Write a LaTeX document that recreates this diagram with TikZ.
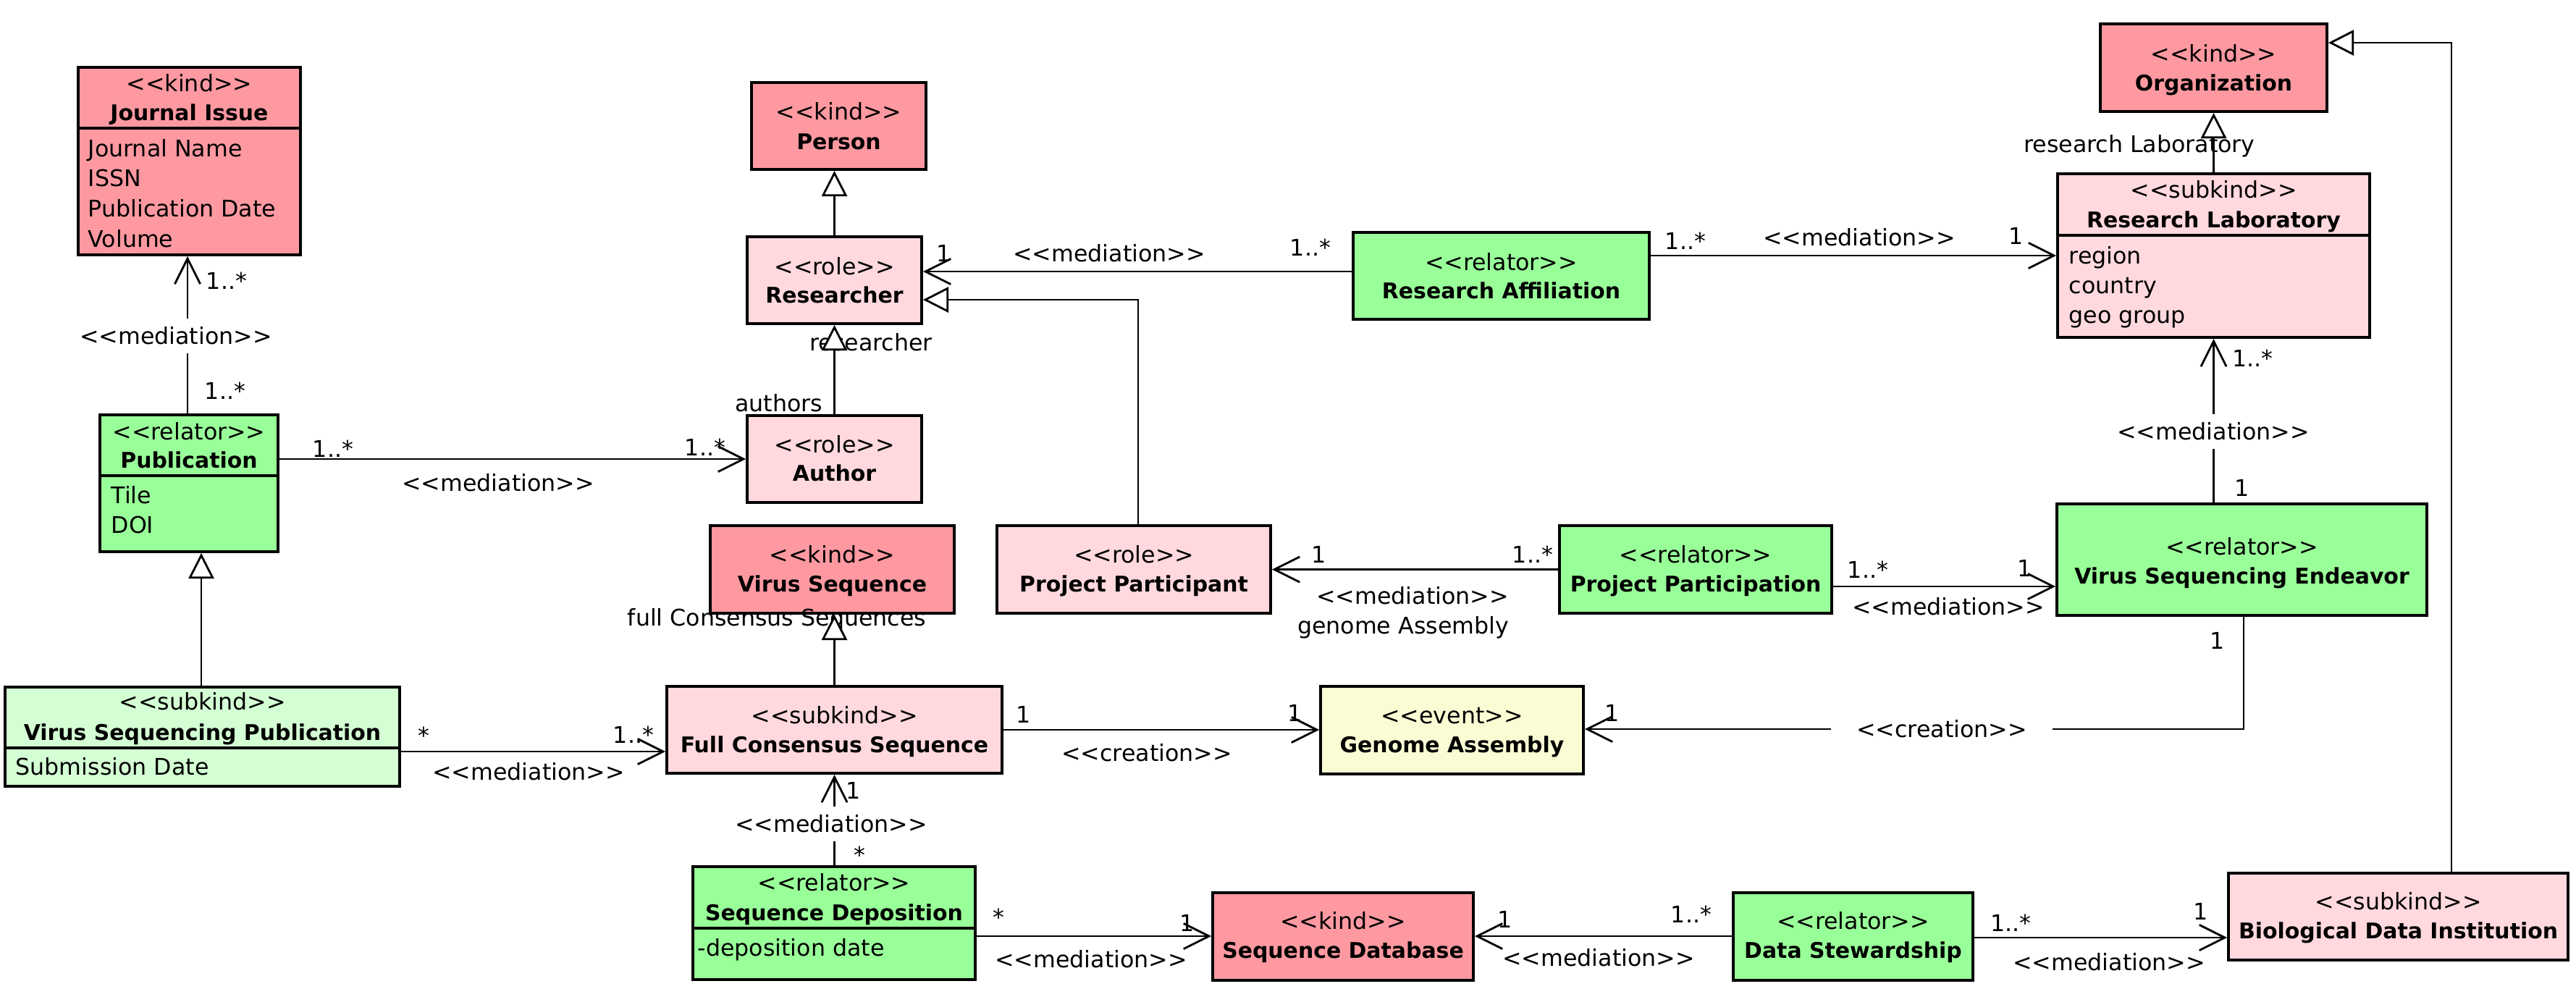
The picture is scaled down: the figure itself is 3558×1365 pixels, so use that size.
\documentclass[tikz,border=0pt]{standalone}
\usepackage{fontspec}
\setmainfont{DejaVu Sans}
\usetikzlibrary{arrows.meta}
\definecolor{kindc}{RGB}{255,153,161}
\definecolor{rolec}{RGB}{255,217,222}
\definecolor{relc}{RGB}{153,255,153}
\definecolor{evc}{RGB}{250,253,212}
\definecolor{lgc}{RGB}{212,255,212}
\newcommand\st[1]{<\kern0pt<#1>\kern0pt>}
\newcommand\umlbox[6]{\node[umlrect, fill=#6, minimum width={(#4-#2)*0.01cm}, minimum height={(#5-#3)*0.01cm}] (#1) at ({(#2+#4)/2},{(#3+#5)/2}) {};}
\begin{document}
\begin{tikzpicture}[x=0.01cm,y=-0.01cm,
  umlrect/.style={draw, line width=1.1pt, inner sep=0pt},
  sepline/.style={line width=1.1pt},
  lbl/.style={font=\fontsize{9}{11}\selectfont, inner sep=0pt, text height=6.6pt, text depth=0pt},
  cname/.style={font=\fontsize{8.5}{10}\bfseries\selectfont, inner sep=0pt, text height=6.2pt, text depth=0pt},
  attr/.style={lbl, anchor=west},
  gaplbl/.style={lbl, fill=white, inner xsep=3pt, inner ysep=3.5pt},
  med/.style={line width=0.8pt, -{Straight Barb[length=10pt, width=10pt]}},
  gen/.style={line width=0.8pt, -{Triangle[length=10pt, width=10pt, fill=white]}}
]
\useasboundingbox (0,0) rectangle (3558,1365);

% ---------- boxes ----------
\umlbox{ji}{108}{93}{415}{352}{kindc}
\umlbox{person}{1038}{114}{1279}{234}{kindc}
\umlbox{researcher}{1032}{327}{1273}{447}{rolec}
\umlbox{author}{1032}{574}{1273}{694}{rolec}
\umlbox{pub}{138}{573}{384}{762}{relc}
\umlbox{vsp}{7}{949}{552}{1086}{lgc}
\umlbox{vs}{981}{726}{1318}{847}{kindc}
\umlbox{fcs}{921}{948}{1384}{1068}{rolec}
\umlbox{seqdep}{957}{1197}{1347}{1353}{relc}
\umlbox{pp}{1377}{726}{1755}{847}{rolec}
\umlbox{ra}{1869}{321}{2278}{441}{relc}
\umlbox{ppn}{2154}{726}{2530}{847}{relc}
\umlbox{ga}{1824}{948}{2187}{1069}{evc}
\umlbox{sd}{1675}{1233}{2035}{1354}{kindc}
\umlbox{ds}{2394}{1233}{2725}{1354}{relc}
\umlbox{org}{2901}{33}{3214}{154}{kindc}
\umlbox{rl}{2842}{240}{3273}{466}{rolec}
\umlbox{vse}{2841}{696}{3352}{850}{relc}
\umlbox{bdi}{3078}{1206}{3547}{1326}{rolec}

% compartment separators
\draw[sepline] (ji.west |- 0,177) -- (ji.east |- 0,177);
\draw[sepline] (pub.west |- 0,657) -- (pub.east |- 0,657);
\draw[sepline] (vsp.west |- 0,1033) -- (vsp.east |- 0,1033);
\draw[sepline] (seqdep.west |- 0,1282) -- (seqdep.east |- 0,1282);
\draw[sepline] (rl.west |- 0,325) -- (rl.east |- 0,325);

% ---------- box texts ----------
\node[lbl] (ji-s) at (ji |- 0,115) {\st{kind}};
\node[cname] (ji-n) at (ji |- 0,156) {Journal Issue};
\node[attr] (ji-a1) at (121,205) {Journal Name};
\node[attr] (ji-a2) at (121,246) {ISSN};
\node[attr] (ji-a3) at (121,288) {Publication Date};
\node[attr] (ji-a4) at (121,330) {Volume};

\node[lbl] (person-s) at (person |- 0,154) {\st{kind}};
\node[cname] (person-n) at (person |- 0,196) {Person};

\node[lbl] (researcher-s) at (researcher |- 0,368) {\st{role}};
\node[cname] (researcher-n) at (researcher |- 0,408) {Researcher};

\node[lbl] (author-s) at (author |- 0,614) {\st{role}};
\node[cname] (author-n) at (author |- 0,654) {Author};

\node[lbl] (pub-s) at (pub |- 0,596) {\st{relator}};
\node[cname] (pub-n) at (pub |- 0,636) {Publication};
\node[attr] (pub-a1) at (153,684) {Tile};
\node[attr] (pub-a2) at (153,725) {DOI};

\node[lbl] (vsp-s) at (vsp |- 0,969) {\st{subkind}};
\node[cname] (vsp-n) at (vsp |- 0,1012) {Virus Sequencing Publication};
\node[attr] (vsp-a1) at (21,1059) {Submission Date};

\node[lbl] (vs-s) at (vs |- 0,766) {\st{kind}};
\node[cname] (vs-n) at (vs |- 0,807) {Virus Sequence};

\node[lbl] (fcs-s) at (fcs |- 0,988) {\st{subkind}};
\node[cname] (fcs-n) at (fcs |- 0,1029) {Full Consensus Sequence};

\node[lbl] (seqdep-s) at (seqdep |- 0,1219) {\st{relator}};
\node[cname] (seqdep-n) at (seqdep |- 0,1261) {Sequence Deposition};
\node[attr] (seqdep-a1) at (963,1309) {-deposition date};

\node[lbl] (pp-s) at (pp |- 0,766) {\st{role}};
\node[cname] (pp-n) at (pp |- 0,807) {Project Participant};

\node[lbl] (ra-s) at (ra |- 0,362) {\st{relator}};
\node[cname] (ra-n) at (ra |- 0,402) {Research Affiliation};

\node[lbl] (ppn-s) at (ppn |- 0,766) {\st{relator}};
\node[cname] (ppn-n) at (ppn |- 0,807) {Project Participation};

\node[lbl] (ga-s) at (ga |- 0,988) {\st{event}};
\node[cname] (ga-n) at (ga |- 0,1029) {Genome Assembly};

\node[lbl] (sd-s) at (sd |- 0,1272) {\st{kind}};
\node[cname] (sd-n) at (sd |- 0,1313) {Sequence Database};

\node[lbl] (ds-s) at (ds |- 0,1272) {\st{relator}};
\node[cname] (ds-n) at (ds |- 0,1313) {Data Stewardship};

\node[lbl] (org-s) at (org |- 0,74) {\st{kind}};
\node[cname] (org-n) at (org |- 0,115) {Organization};

\node[lbl] (rl-s) at (rl |- 0,262) {\st{subkind}};
\node[cname] (rl-n) at (rl |- 0,304) {Research Laboratory};
\node[attr] (rl-a1) at (2857,353) {region};
\node[attr] (rl-a2) at (2857,394) {country};
\node[attr] (rl-a3) at (2857,435) {geo group};

\node[lbl] (vse-s) at (vse |- 0,755) {\st{relator}};
\node[cname] (vse-n) at (vse |- 0,796) {Virus Sequencing Endeavor};

\node[lbl] (bdi-s) at (bdi |- 0,1245) {\st{subkind}};
\node[cname] (bdi-n) at (bdi |- 0,1286) {Biological Data Institution};

% ---------- role labels under generalization tips ----------
\node[lbl] (l-researcher) at (1203,473) {researcher};
\node[lbl, anchor=east] (l-authors) at (1137,557) {authors};
\node[lbl] (l-rlab) at (2955,199) {research Laboratory};
\node[lbl] (l-fcs) at (1073,853) {full Consensus Sequences};

% ---------- connectors ----------
% generalizations
\draw[gen] (author.north) -- (researcher.south);
\draw[gen] (researcher.north) -- (researcher.north |- person.south);
\draw[gen] (pp.north -| 1572,0) |- (researcher.east |- 0,414);
\draw[gen] (rl.north) -- (org.south);
\draw[gen] (bdi.north -| 3386,0) |- (org.east |- 0,59);
\draw[gen] (fcs.north) -- (fcs.north |- vs.south);
\draw[gen] (vsp.north -| 278,0) -- (pub.south -| 278,0);

% mediations / creations
\draw[med] (pub.north -| 259,0) -- (ji.south -| 259,0);
\draw[med] (author.west -| pub.east) -- (author.west);
\draw[med] (ra.west |- 0,375) -- (researcher.east |- 0,375);
\draw[med] (ra.east |- 0,353) -- (rl.west |- 0,353);
\draw[med] (rl.south |- vse.north) -- (rl.south);
\draw[med] (ppn.west) -- (pp.east);
\draw[med] (ppn.east |- 0,810) -- (vse.west |- 0,810);
\draw[med] (fcs.east) -- (ga.west |- fcs.east);
\draw[med] (vse.south -| 3099,0) |- (ga.east |- 0,1007);
\draw[med] (vsp.east |- 0,1038) -- (fcs.west |- 0,1038);
\draw[med] (seqdep.north -| fcs.south) -- (fcs.south);
\draw[med] (seqdep.east |- 0,1293) -- (sd.west |- 0,1293);
\draw[med] (ds.west |- 0,1293) -- (sd.east |- 0,1293);
\draw[med] (ds.east |- 0,1295) -- (bdi.west |- 0,1295);

% ---------- connector labels ----------
\node[lbl] (m-a1) at (313,388) {1..*};
\node[gaplbl] (g-a) at (243,464) {\st{mediation}};
\node[lbl] (m-a2) at (311,540) {1..*};

\node[lbl] (m-b1) at (460,620) {1..*};
\node[lbl] (m-b2) at (974,618) {1..*};
\node[lbl] (g-b) at (688,667) {\st{mediation}};

\node[lbl] (m-e1) at (1304,350) {1};
\node[lbl] (g-e) at (1532,350) {\st{mediation}};
\node[lbl] (m-e2) at (1810,342) {1..*};

\node[lbl] (m-g1) at (2328,333) {1..*};
\node[lbl] (g-g) at (2568,328) {\st{mediation}};
\node[lbl] (m-g2) at (2785,326) {1};

\node[lbl] (m-j1) at (3111,495) {1..*};
\node[gaplbl] (g-j) at (3057,596) {\st{mediation}};
\node[lbl] (m-j2) at (3097,674) {1};

\node[lbl] (m-k1) at (1822,766) {1};
\node[lbl] (m-k2) at (2117,766) {1..*};
\node[lbl] (g-k) at (1951,823) {\st{mediation}};
\node[lbl] (l-genome) at (1938,864) {genome Assembly};

\node[lbl] (m-l1) at (2580,787) {1..*};
\node[lbl] (m-l2) at (2797,785) {1};
\node[lbl] (g-l) at (2691,838) {\st{mediation}};

\node[lbl] (m-m1) at (1414,987) {1};
\node[lbl] (m-m2) at (1789,985) {1};
\node[lbl] (g-m) at (1584,1040) {\st{creation}};

\node[lbl] (m-n1) at (3063,885) {1};
\node[gaplbl, inner xsep=10pt] (g-n) at (2682,1007) {\st{creation}};
\node[lbl] (m-n2) at (2227,985) {1};

\node[lbl] (m-o1) at (585,1016) {*};
\node[lbl] (m-o2) at (875,1015) {1..*};
\node[lbl] (g-o) at (730,1066) {\st{mediation}};

\node[lbl] (m-p1) at (1179,1092) {1};
\node[gaplbl] (g-p) at (1148,1138) {\st{mediation}};
\node[lbl] (m-p2) at (1187,1181) {*};

\node[lbl] (m-q1) at (1379,1267) {*};
\node[lbl] (m-q2) at (1640,1275) {1};
\node[lbl] (g-q) at (1507,1325) {\st{mediation}};

\node[lbl] (m-r1) at (2079,1270) {1};
\node[lbl] (m-r2) at (2336,1263) {1..*};
\node[lbl] (g-r) at (2208,1323) {\st{mediation}};

\node[lbl] (m-s1) at (2777,1275) {1..*};
\node[lbl] (m-s2) at (3040,1259) {1};
\node[lbl] (g-s) at (2913,1329) {\st{mediation}};
\end{tikzpicture}
\end{document}
